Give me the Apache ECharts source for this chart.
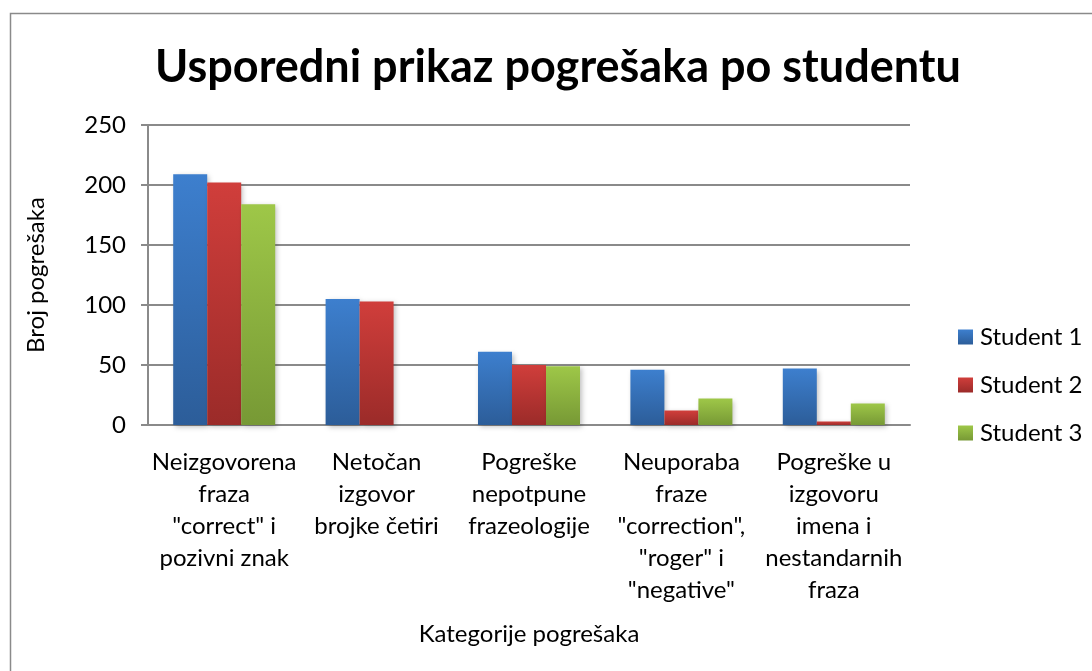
<!DOCTYPE html>
<html>
<head>
    <meta charset="utf-8">
    <title>Usporedni prikaz pogrešaka po studentu</title>
    <script src="https://cdn.jsdelivr.net/npm/echarts@6/dist/echarts.min.js"></script>
    <style>
        html, body { margin: 0; padding: 0; background: #fff; }
        #chart { width: 1092px; height: 671px; }
    </style>
</head>
<body>
    <div id="chart"></div>
    <script>
        // podaci
        var categories = [
            'Neizgovorena\nfraza\n"correct" i\npozivni znak',
            'Netočan\nizgovor\nbrojke četiri',
            'Pogreške\nnepotpune\nfrazeologije',
            'Neuporaba\nfraze\n"correction",\n"roger" i\n"negative"',
            'Pogreške u\nizgovoru\nimena i\nnestandarnih\nfraza'
        ];
        var student1 = [209, 105, 61, 46, 47];
        var student2 = [202, 103, 50, 12, 3];
        var student3 = [184, 0, 49, 22, 18];
        var seriesNames = ['Student 1', 'Student 2', 'Student 3'];

        var font = 'Lato, "Open Sans", sans-serif';

        function grad(top, bottom) {
            return new echarts.graphic.LinearGradient(0, 0, 0, 1, [
                { offset: 0, color: top },
                { offset: 1, color: bottom }
            ]);
        }

        var colors = [
            grad('#3d7fce', '#2c5d99'),
            grad('#d03e3b', '#9b2b29'),
            grad('#9ec748', '#779935')
        ];

        function bar(name, data, color) {
            return {
                name: name,
                type: 'bar',
                data: data,
                barWidth: 34,
                barGap: '0%',
                itemStyle: {
                    color: color,
                    shadowBlur: 5,
                    shadowColor: 'rgba(0,0,0,0.25)',
                    shadowOffsetX: 2,
                    shadowOffsetY: 2
                }
            };
        }

        var chart = echarts.init(document.getElementById('chart'));
        chart.setOption({
            animation: false,
            textStyle: { fontFamily: font },
            graphic: [{
                type: 'rect',
                shape: { x: 10.5, y: 13.5, width: 1100, height: 700 },
                style: { fill: 'none', stroke: '#8a8a8a', lineWidth: 1.5 },
                silent: true
            }],
            title: {
                text: 'Usporedni prikaz pogrešaka po studentu',
                left: 553,
                textAlign: 'center',
                top: 40,
                textStyle: { fontFamily: font, fontSize: 45, fontWeight: 'bold', color: '#000' }
            },
            legend: {
                orient: 'vertical',
                left: 953,
                top: 320,
                itemWidth: 15,
                itemHeight: 15,
                itemGap: 24,
                icon: 'rect',
                data: seriesNames,
                textStyle: { fontFamily: font, fontSize: 24, color: '#000', padding: [0, 0, 0, 2] }
            },
            grid: { left: 148, right: 182, top: 125, bottom: 246 },
            xAxis: {
                type: 'category',
                data: categories,
                name: 'Kategorije pogrešaka',
                nameLocation: 'middle',
                nameGap: 197,
                nameTextStyle: { fontFamily: font, fontSize: 24, color: '#000' },
                axisLine: { lineStyle: { color: '#8a8a8a', width: 2 } },
                axisTick: { show: false },
                axisLabel: {
                    interval: 0,
                    margin: 21,
                    fontSize: 24,
                    lineHeight: 32,
                    color: '#000',
                    fontFamily: font,
                    align: 'center',
                    verticalAlign: 'top'
                }
            },
            yAxis: {
                type: 'value',
                min: 0,
                max: 250,
                interval: 50,
                name: 'Broj pogrešaka',
                nameLocation: 'middle',
                nameGap: 100,
                nameRotate: 90,
                nameTextStyle: { fontFamily: font, fontSize: 24, color: '#000' },
                axisLine: { show: true, lineStyle: { color: '#8a8a8a', width: 2 } },
                axisTick: { show: true, length: 7, lineStyle: { color: '#8a8a8a', width: 2 } },
                axisLabel: { fontSize: 24, color: '#000', margin: 22, fontFamily: font },
                splitLine: { lineStyle: { color: '#8a8a8a', width: 2 } }
            },
            series: [
                bar(seriesNames[0], student1, colors[0]),
                bar(seriesNames[1], student2, colors[1]),
                bar(seriesNames[2], student3, colors[2])
            ]
        });
    </script>
</body>
</html>
